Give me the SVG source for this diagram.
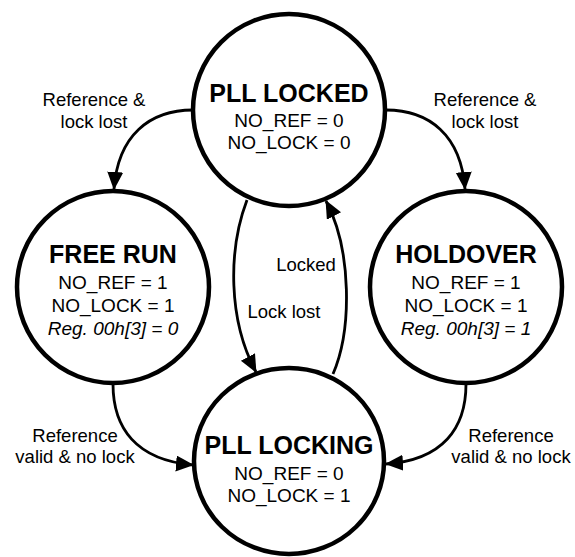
<svg xmlns="http://www.w3.org/2000/svg" width="575" height="557" viewBox="0 0 575 557">
<style>
.node{fill:#fff;stroke:#000;stroke-width:4.5}
.t{font-family:"Liberation Sans",Arial,sans-serif;fill:#000;text-anchor:middle}
.title{font-size:25px;font-weight:bold}
.val{font-size:19px}
.it{font-size:19px;font-style:italic}
.lbl{font-size:18.5px}
.edge{fill:none;stroke:#000;stroke-width:2.8}
</style>
<defs>
<marker id="arr" markerUnits="userSpaceOnUse" markerWidth="20" markerHeight="18" refX="17" refY="8" orient="auto">
<path d="M0,0 L18,8 L0,16 z" fill="#000"/>
</marker>
</defs>
<rect width="575" height="557" fill="#fff"/>
<g id="connectors">
<path class="edge" d="M193,110 C150,110 118,135 114,189" marker-end="url(#arr)"/>
<path class="edge" d="M386,110 C429,110 461,135 465,189" marker-end="url(#arr)"/>
<path class="edge" d="M113,384 C113,428 136,460 193,465" marker-end="url(#arr)"/>
<path class="edge" d="M466,384 C466,428 443,460 386,464" marker-end="url(#arr)"/>
<path class="edge" d="M247,200 C228,250 228,320 256,372" marker-end="url(#arr)"/>
<path class="edge" d="M333,374 C352,330 352,250 326,201" marker-end="url(#arr)"/>
<text class="t lbl" x="94" y="106">Reference &amp;</text>
<text class="t lbl" x="94" y="128">lock lost</text>
<text class="t lbl" x="485" y="106">Reference &amp;</text>
<text class="t lbl" x="485" y="128">lock lost</text>
<text class="t lbl" x="306" y="271">Locked</text>
<text class="t lbl" x="284" y="318">Lock lost</text>
<text class="t lbl" x="75" y="442">Reference</text>
<text class="t lbl" x="75" y="463">valid &amp; no lock</text>
<text class="t lbl" x="511" y="442">Reference</text>
<text class="t lbl" x="511" y="463">valid &amp; no lock</text>
</g>
<g id="pll-locked">
<circle class="node" cx="289" cy="110" r="96"/>
<text class="t title" x="289" y="102">PLL LOCKED</text>
<text class="t val" x="289" y="127">NO_REF = 0</text>
<text class="t val" x="289" y="149">NO_LOCK = 0</text>
</g>
<g id="free-run">
<circle class="node" cx="113" cy="287" r="96"/>
<text class="t title" x="113" y="263">FREE RUN</text>
<text class="t val" x="113" y="289">NO_REF = 1</text>
<text class="t val" x="113" y="312">NO_LOCK = 1</text>
<text class="t it" x="113" y="335">Reg. 00h[3] = 0</text>
</g>
<g id="holdover">
<circle class="node" cx="466" cy="287" r="96"/>
<text class="t title" x="466" y="263">HOLDOVER</text>
<text class="t val" x="466" y="289">NO_REF = 1</text>
<text class="t val" x="466" y="312">NO_LOCK = 1</text>
<text class="t it" x="466" y="335">Reg. 00h[3] = 1</text>
</g>
<g id="pll-locking">
<ellipse class="node" cx="289" cy="461" rx="95" ry="93"/>
<text class="t title" x="289" y="454">PLL LOCKING</text>
<text class="t val" x="289" y="480">NO_REF = 0</text>
<text class="t val" x="289" y="502">NO_LOCK = 1</text>
</g>
</svg>
